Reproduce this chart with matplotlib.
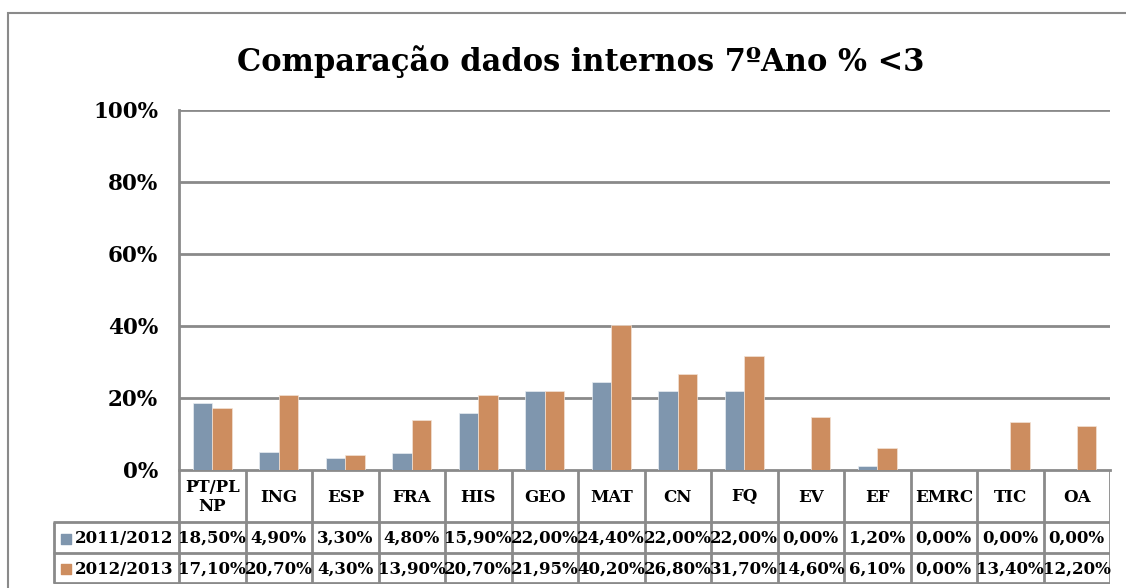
import matplotlib
matplotlib.use("Agg")
import matplotlib.pyplot as plt
from matplotlib.patches import Rectangle
import numpy as np

# data
subjects = ["PT/PL\nNP", "ING", "ESP", "FRA", "HIS", "GEO", "MAT", "CN", "FQ",
            "EV", "EF", "EMRC", "TIC", "OA"]
series_names = ["2011/2012", "2012/2013"]
y2011 = [18.50, 4.90, 3.30, 4.80, 15.90, 22.00, 24.40, 22.00, 22.00, 0.00, 1.20, 0.00, 0.00, 0.00]
y2012 = [17.10, 20.70, 4.30, 13.90, 20.70, 21.95, 40.20, 26.80, 31.70, 14.60, 6.10, 0.00, 13.40, 12.20]
yticks = [0, 20, 40, 60, 80, 100]

colors = ["#7f96ae", "#cd8d5f"]
grid_c = "#8a8a8a"
font = "DejaVu Serif"

W, H = 1126, 588
fig = plt.figure(figsize=(W / 100, H / 100), dpi=100)


def px(x0, y0, x1, y1):
    # pixel box (top-left origin) -> figure fraction rect
    return [x0 / W, 1 - y1 / H, (x1 - x0) / W, (y1 - y0) / H]


# outer chart frame, only its left and top edges fall inside the picture
fig.add_artist(Rectangle((8 / W, -0.2), 1.3, 1.2 - 13 / H, fill=False,
                         edgecolor=grid_c, lw=1.5, transform=fig.transFigure))

fig.text(581 / W, 1 - 62 / H, "Comparação dados internos 7ºAno % <3",
         ha="center", va="center", fontsize=22, fontweight="bold", family=font)

n = len(subjects)
x = np.arange(n)
bw = 0.29

ax = fig.add_axes(px(179, 110, 1110, 470))
ax.bar(x - bw / 2, y2011, bw, color=colors[0], edgecolor="#e8edf2", linewidth=0.5, zorder=3)
ax.bar(x + bw / 2, y2012, bw, color=colors[1], edgecolor="#f3e2d5", linewidth=0.5, zorder=3)
ax.set_xlim(-0.5, n - 0.5)
ax.set_ylim(0, 100)
ax.set_yticks(yticks)
ax.set_yticklabels([f"{t}%" for t in yticks], fontsize=15.5, fontweight="bold", family=font)
ax.tick_params(axis="y", length=0, pad=15)
ax.set_xticks([])
for t in yticks[1:]:
    ax.axhline(t, color=grid_c, lw=2, zorder=1)
for s in ["top", "right"]:
    ax.spines[s].set_visible(False)
for s in ["left", "bottom"]:
    ax.spines[s].set_color(grid_c)
    ax.spines[s].set_linewidth(2)

# data table below the plot, x in category units, y in pixels
left_px, right_px = 53, 1110
cat_w = (1110 - 179) / n
tx0 = -0.5 - (179 - left_px) / cat_w
tab = fig.add_axes(px(left_px, 470, right_px, 584))
tab.set_xlim(tx0, n - 0.5)
tab.set_ylim(584, 470)
tab.axis("off")

r_head, r1, r2, r_end = 470, 522, 553, 583
lc = dict(color=grid_c, lw=2, solid_capstyle="butt")
# vertical lines
for b in np.arange(n + 1) - 0.5:
    tab.plot([b, b], [r_head, r_end], **lc)
tab.plot([tx0 + 0.01, tx0 + 0.01], [r1, r_end], **lc)
# horizontal lines
for yy in [r1, r2, r_end]:
    tab.plot([tx0, n - 0.5], [yy, yy], **lc)

tfs = 12
for i, lab in enumerate(subjects):
    tab.text(i, (r_head + r1) / 2 + 1, lab, ha="center", va="center",
             fontsize=tfs, fontweight="bold", family=font, linespacing=1.1)


def fmt(v):
    return f"{v:.2f}".replace(".", ",") + "%"


for (yy0, yy1), vals, c, name in zip([(r1, r2), (r2, r_end)],
                                     [y2011, y2012], colors, series_names):
    ym = (yy0 + yy1) / 2 + 1
    for i, v in enumerate(vals):
        tab.text(i, ym, fmt(v), ha="center", va="center",
                 fontsize=tfs, fontweight="bold", family=font)
    tab.scatter([tx0 + 0.19], [ym], marker="s", s=50, color=c)
    tab.text(tx0 + 0.33, ym, name, ha="left", va="center",
             fontsize=tfs, fontweight="bold", family=font)

fig.savefig("out.png", dpi=100)
